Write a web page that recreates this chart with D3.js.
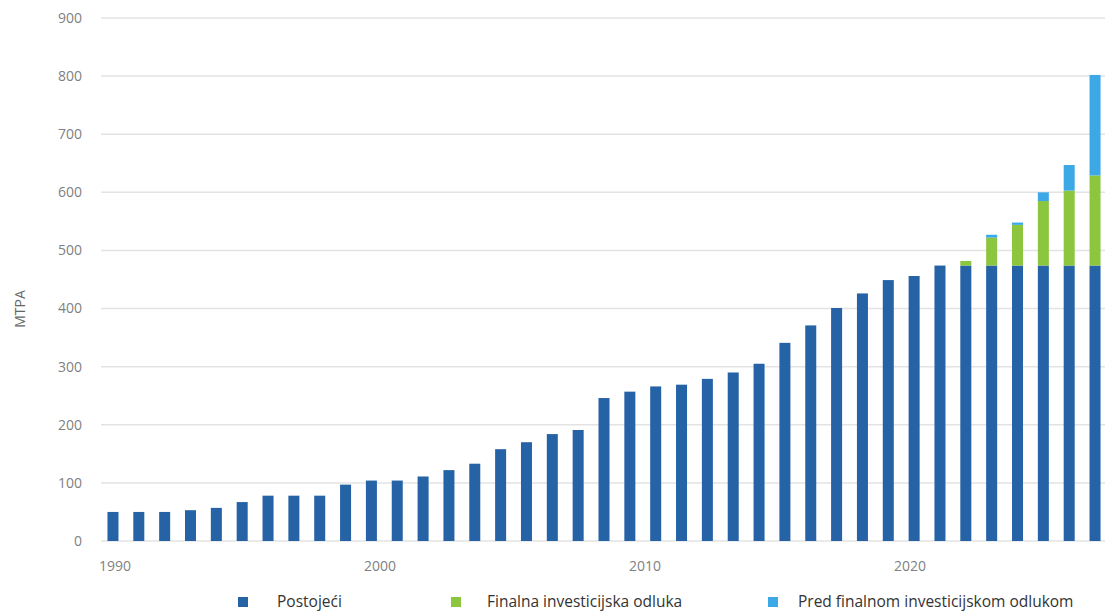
<!DOCTYPE html>
<html>
<head>
<meta charset="utf-8">
<script src="https://cdn.jsdelivr.net/npm/d3@7"></script>
<style>
  body { margin: 0; background: #fff; }
  svg { display: block; font-family: 'Open Sans', sans-serif; }
</style>
</head>
<body>
<div class="chart"></div>
<script>
// data (MTPA)
var years = d3.range(1990, 2029);
var existing = [50, 50, 50, 53, 57, 67, 78, 78, 78, 97,
    104, 104, 111, 122, 133, 158, 170, 184, 191, 246,
    257, 266, 269, 279, 290, 305, 341, 371, 401, 426,
    449, 456, 474, 474, 474, 474, 474, 474, 474];
var fid = [0, 0, 0, 0, 0, 0, 0, 0, 0, 0,
    0, 0, 0, 0, 0, 0, 0, 0, 0, 0,
    0, 0, 0, 0, 0, 0, 0, 0, 0, 0,
    0, 0, 0, 8, 48, 70, 111, 129, 155];
var preFid = [0, 0, 0, 0, 0, 0, 0, 0, 0, 0,
    0, 0, 0, 0, 0, 0, 0, 0, 0, 0,
    0, 0, 0, 0, 0, 0, 0, 0, 0, 0,
    0, 0, 0, 0, 5, 4, 15, 44, 173];
var seriesNames = ["Postojeći", "Finalna investicijska odluka", "Pred finalnom investicijskom odlukom"];
var seriesColors = ["#2563a6", "#8cc63f", "#3ca9e6"];
var yTicks = [0, 100, 200, 300, 400, 500, 600, 700, 800, 900];
var xTickYears = [1990, 2000, 2010, 2020];
var yLabel = "MTPA";

const svgWidth = 1105, svgHeight = 616;
const plotLeft = 101, plotRight = 1105, plotTop = 18, plotBottom = 541;

var svg = d3.select(".chart").append("svg")
    .attr("width", svgWidth).attr("height", svgHeight);

var table = years.map(function (y, i) {
    return { year: y, a: existing[i], b: fid[i], c: preFid[i] };
});
var stacked = d3.stack().keys(["a", "b", "c"])(table);

var x = d3.scaleBand()
    .domain(years)
    .range([plotLeft, 1107])
    .paddingInner(0.574)
    .paddingOuter(0.25);

var y = d3.scaleLinear()
    .domain([0, 900])
    .range([plotBottom, plotTop]);

// year labels sit on their own slightly wider spacing
var xLab = d3.scaleLinear()
    .domain([1990, 2020])
    .range([x(1990) + x.bandwidth() / 2 + 2, x(1990) + x.bandwidth() / 2 + 797]);

// grid
svg.append("g").selectAll("line")
    .data(yTicks).enter().append("line")
    .attr("x1", plotLeft).attr("x2", plotRight)
    .attr("y1", function (d) { return y(d); })
    .attr("y2", function (d) { return y(d); })
    .attr("stroke", "#e3e3e3")
    .attr("stroke-width", 1.5);

// y tick labels
svg.append("g").selectAll("text")
    .data(yTicks).enter().append("text")
    .text(function (d) { return d; })
    .attr("x", 82)
    .attr("y", function (d) { return y(d); })
    .attr("dy", "0.35em")
    .style("text-anchor", "end")
    .style("font-size", "14px")
    .style("fill", "#7f7f7f");

// y axis title
svg.append("text")
    .text(yLabel)
    .attr("transform", "translate(25,309) rotate(-90)")
    .style("text-anchor", "middle")
    .style("font-size", "14px")
    .style("fill", "#666");

// x tick labels
svg.append("g").selectAll("text")
    .data(xTickYears).enter().append("text")
    .text(function (d) { return d; })
    .attr("x", function (d) { return xLab(d); })
    .attr("y", 571)
    .style("text-anchor", "middle")
    .style("font-size", "14px")
    .style("fill", "#7f7f7f");

// bars
svg.append("g").selectAll("g")
    .data(stacked).enter().append("g")
    .attr("fill", function (d, i) { return seriesColors[i]; })
    .selectAll("rect")
    .data(function (d) { return d.filter(function (p) { return p[1] > p[0]; }); })
    .enter().append("rect")
    .attr("x", function (d) { return x(d.data.year); })
    .attr("width", x.bandwidth())
    .attr("y", function (d) { return y(d[1]); })
    .attr("height", function (d) { return y(d[0]) - y(d[1]); });

// legend
var legendX = [238, 451, 768];
var legendTextDx = [39, 36, 30];
var legend = svg.append("g").selectAll("g")
    .data(seriesNames).enter().append("g")
    .attr("transform", function (d, i) { return "translate(" + legendX[i] + ",597)"; });

legend.append("rect")
    .attr("width", 10).attr("height", 10)
    .attr("fill", function (d, i) { return seriesColors[i]; });

legend.append("text")
    .text(function (d) { return d; })
    .attr("x", function (d, i) { return legendTextDx[i]; })
    .attr("y", 5)
    .attr("dy", "0.35em")
    .style("font-size", "15.5px")
    .style("fill", "#333");
</script>
</body>
</html>
